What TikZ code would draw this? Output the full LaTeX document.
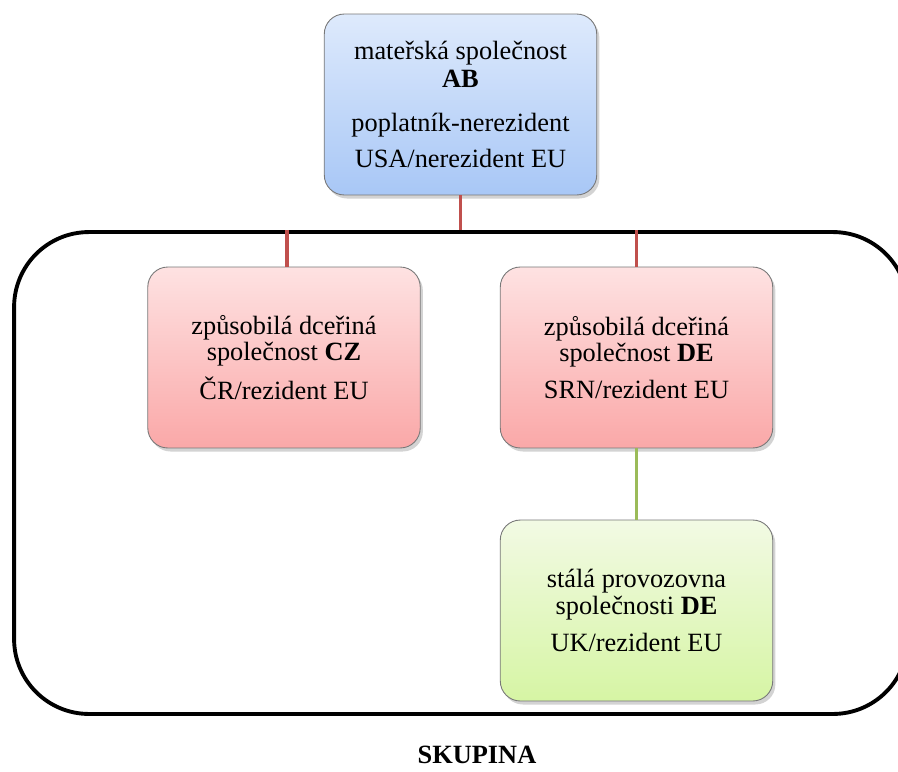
\documentclass[tikz,border=0pt]{standalone}
\usepackage{fontspec}
\setmainfont{LiberationSerif-Regular.ttf}[BoldFont = LiberationSerif-Bold.ttf, ItalicFont = LiberationSerif-Italic.ttf]
\usepackage{xcolor}
\usepackage{tikz}
\usetikzlibrary{shadows}
\usetikzlibrary{calc}

\definecolor{linkred}{RGB}{192,80,77}
\definecolor{linkgreen}{RGB}{155,187,89}
\definecolor{boxgray}{RGB}{120,120,120}

\begin{document}
\begin{tikzpicture}[x = 0.02cm, y = -0.02cm]
			\useasboundingbox (0, 0) rectangle (898, 771);
			\clip (0, 0) rectangle (898, 771);
			
			\begin{scope}[every node/.style={rectangle, rounded corners = 0.4cm, draw = boxgray, line width = 0.5pt,
				minimum width = 5.45cm, minimum height = 3.62cm, align = center, inner sep = 0pt,
				font = \fontsize{15}{16}\selectfont,
				drop shadow = {opacity = 0.35, shadow xshift = 1.5pt, shadow yshift = -2pt}}]
			\node (ab) [top color = {rgb,255:red,222;green,234;blue,252}, bottom color = {rgb,255:red,168;green,199;blue,246}]
			at (460.5, 104.5) {mateřská společnost\\ \textbf{AB}\\[9pt] poplatník-nerezident\\[4.5pt] USA/nerezident EU};
			\node (cz) [top color = {rgb,255:red,254;green,226;blue,226}, bottom color = {rgb,255:red,250;green,168;blue,168}]
			at (284, 357.5) {způsobilá dceřiná\\[-1pt] společnost \textbf{CZ}\\[5pt] ČR/rezident EU};
			\node (de) [top color = {rgb,255:red,254;green,226;blue,226}, bottom color = {rgb,255:red,250;green,168;blue,168}]
			at (636.5, 357.5) {způsobilá dceřiná\\[-1pt] společnost \textbf{DE}\\[5pt] SRN/rezident EU};
			\node (pe) [top color = {rgb,255:red,242;green,250;blue,228}, bottom color = {rgb,255:red,214;green,245;blue,164}]
			at (636.5, 610.5) {stálá provozovna\\[-1pt] společnosti \textbf{DE}\\[5pt] UK/rezident EU};
			\end{scope}
			
			% skupina
			\node (grp) [rectangle, rounded corners = 1.5cm, draw = black, line width = 2.2pt,
			minimum width = 17.88cm, minimum height = 9.64cm] at (461, 473) {};
			\node (lbl) [font = \fontsize{15}{16}\selectfont\bfseries] at (477, 755) {SKUPINA};
			
			\begin{scope}[every edge/.style = {draw = linkred, line width = 2.2pt}]
			\path (ab.south) edge (ab.south |- grp.north)
			($(cz.north) + (3, 0)$) edge ($(cz.north |- grp.north) + (3, 0)$)
			(de.north) edge (de.north |- grp.north);
			\end{scope}
			
			\begin{scope}[every edge/.style = {draw = linkgreen, line width = 2.2pt}]
			\path (de.south) edge (pe.north);
			\end{scope}
			
			\end{tikzpicture}
\end{document}
